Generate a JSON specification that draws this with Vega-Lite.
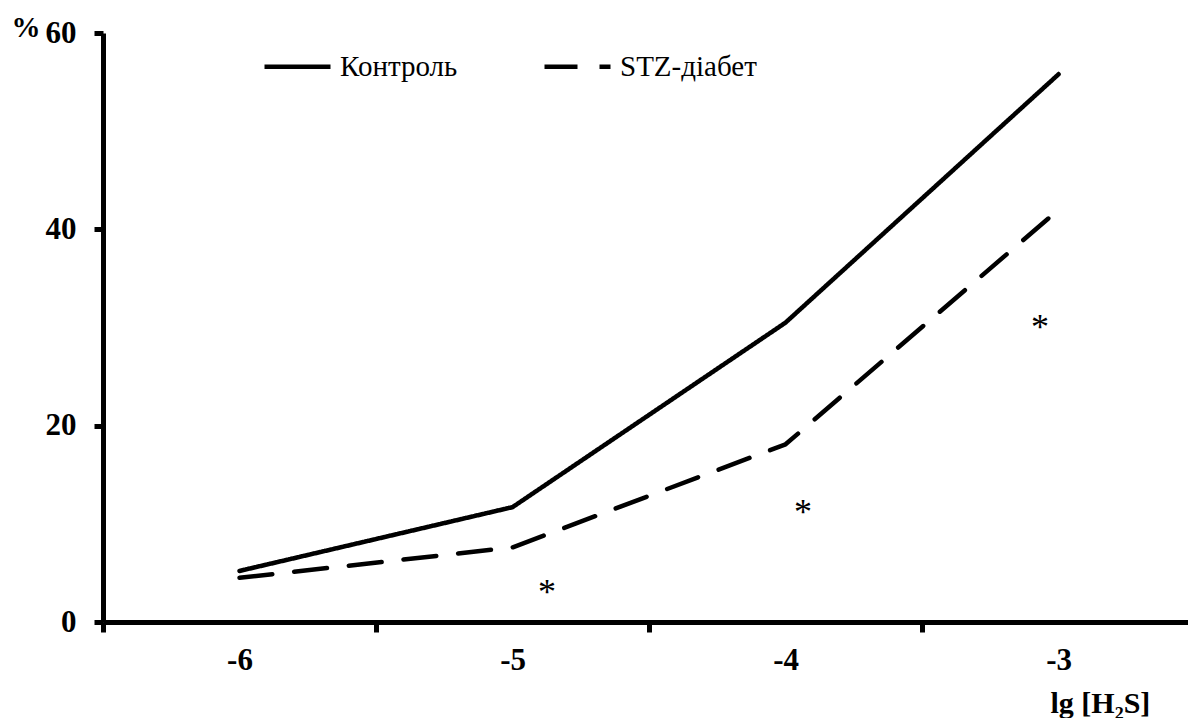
{
  "$schema": "https://vega.github.io/schema/vega-lite/v6.json",
  "width": 1085,
  "height": 589,
  "autosize": {"type": "none"},
  "padding": {"left": 103, "top": 33, "right": 0, "bottom": 96},
  "background": "white",
  "config": {
    "view": {"stroke": null},
    "font": "Liberation Serif",
    "axis": {
      "grid": false,
      "domainColor": "black",
      "domainWidth": 5,
      "tickColor": "black",
      "tickWidth": 5,
      "labelColor": "black",
      "labelFont": "Liberation Serif",
      "labelFontWeight": "bold",
      "labelFontSize": 31,
      "titleColor": "black",
      "titleFont": "Liberation Serif",
      "titleFontWeight": "bold"
    }
  },
  "layer": [
    {
      "data": {
        "values": [
          {"lg": -6, "pct": 5.2, "group": "Контроль"},
          {"lg": -5, "pct": 11.7, "group": "Контроль"},
          {"lg": -4, "pct": 30.5, "group": "Контроль"},
          {"lg": -3, "pct": 55.8, "group": "Контроль"},
          {"lg": -6, "pct": 4.5, "group": "STZ-діабет"},
          {"lg": -5, "pct": 7.6, "group": "STZ-діабет"},
          {"lg": -4, "pct": 18.1, "group": "STZ-діабет"},
          {"lg": -3, "pct": 42.0, "group": "STZ-діабет"}
        ]
      },
      "mark": {"type": "line", "color": "black", "strokeWidth": 4.5, "strokeCap": "round", "strokeJoin": "round"},
      "encoding": {
        "x": {
          "field": "lg",
          "type": "quantitative",
          "scale": {"domain": [-6.5, -2.526], "nice": false, "zero": false},
          "axis": {
            "values": [-6.5, -6, -5.5, -5, -4.5, -4, -3.5, -3],
            "labelExpr": "datum.value % 1 === 0 ? '' + datum.value : ''",
            "tickOpacity": {"condition": {"test": "datum.value % 1 !== 0", "value": 1}, "value": 0},
            "tickSize": 10,
            "labelPadding": 13,
            "labelFlush": false,
            "title": "lg [H₂S]",
            "titleFontSize": 30,
            "titleAlign": "left",
            "titleAnchor": "start",
            "titleBaseline": "alphabetic",
            "titleX": 947,
            "titleY": 90
          }
        },
        "y": {
          "field": "pct",
          "type": "quantitative",
          "scale": {"domain": [0, 60], "nice": false},
          "axis": {
            "values": [0, 20, 40, 60],
            "format": "d",
            "tickSize": 9,
            "labelPadding": 18,
            "title": "%",
            "titleAngle": 0,
            "titleFontSize": 29,
            "titleAlign": "left",
            "titleBaseline": "alphabetic",
            "titleX": -92,
            "titleY": 3
          }
        },
        "strokeDash": {
          "field": "group",
          "type": "nominal",
          "scale": {"domain": ["Контроль", "STZ-діабет"], "range": [[1, 0], [33, 22]]},
          "legend": {
            "title": null,
            "orient": "none",
            "direction": "horizontal",
            "legendX": 159,
            "legendY": -2,
            "padding": 0,
            "symbolType": "stroke",
            "symbolSize": 4356,
            "symbolStrokeWidth": 4.5,
            "symbolStrokeColor": "black",
            "labelFont": "Liberation Serif",
            "labelFontSize": 29,
            "labelColor": "black",
            "labelOffset": 7,
            "labelLimit": 300,
            "columnPadding": 77
          }
        }
      }
    },
    {
      "data": {
        "values": [
          {"lg": -4.874, "pct": 3.0, "sig": "*"},
          {"lg": -3.936, "pct": 11.1, "sig": "*"},
          {"lg": -3.068, "pct": 30.0, "sig": "*"}
        ]
      },
      "mark": {"type": "text", "color": "black", "font": "Liberation Serif", "fontSize": 36, "align": "center", "baseline": "middle"},
      "encoding": {
        "x": {"field": "lg", "type": "quantitative"},
        "y": {"field": "pct", "type": "quantitative"},
        "text": {"field": "sig"}
      }
    }
  ]
}
